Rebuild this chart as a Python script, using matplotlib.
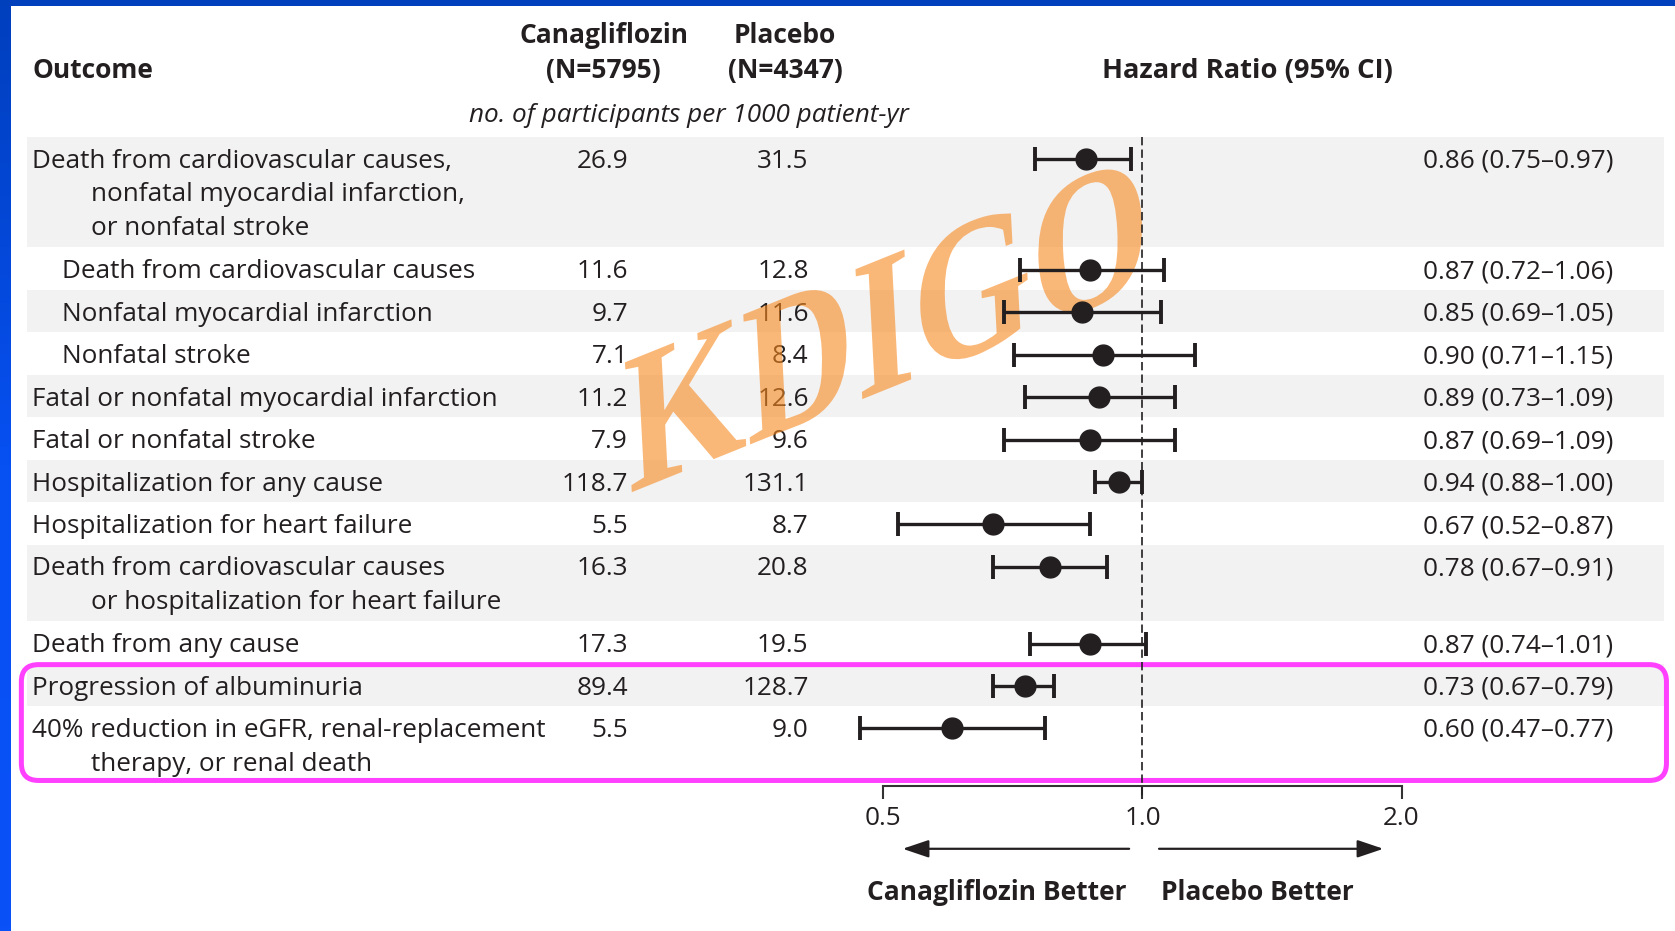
import numpy as np
import matplotlib
matplotlib.use("Agg")
import matplotlib.pyplot as plt
from matplotlib.patches import Rectangle, FancyBboxPatch, PathPatch
from matplotlib.textpath import TextPath
from matplotlib.font_manager import FontProperties
from matplotlib.transforms import Affine2D
from matplotlib.colors import LinearSegmentedColormap
from matplotlib.ticker import NullLocator

plt.rcParams['font.family'] = ['Open Sans', 'DejaVu Sans']

outcomes = [
    "Death from cardiovascular causes,\nnonfatal myocardial infarction,\nor nonfatal stroke",
    "Death from cardiovascular causes",
    "Nonfatal myocardial infarction",
    "Nonfatal stroke",
    "Fatal or nonfatal myocardial infarction",
    "Fatal or nonfatal stroke",
    "Hospitalization for any cause",
    "Hospitalization for heart failure",
    "Death from cardiovascular causes\nor hospitalization for heart failure",
    "Death from any cause",
    "Progression of albuminuria",
    "40% reduction in eGFR, renal-replacement\ntherapy, or renal death",
]
subgroup = [False, True, True, True, False, False, False, False, False, False, False, False]
canagliflozin = [26.9, 11.6, 9.7, 7.1, 11.2, 7.9, 118.7, 5.5, 16.3, 17.3, 89.4, 5.5]
placebo = [31.5, 12.8, 11.6, 8.4, 12.6, 9.6, 131.1, 8.7, 20.8, 19.5, 128.7, 9.0]
hazard_ratio = [0.86, 0.87, 0.85, 0.90, 0.89, 0.87, 0.94, 0.67, 0.78, 0.87, 0.73, 0.60]
ci_low = [0.75, 0.72, 0.69, 0.71, 0.73, 0.69, 0.88, 0.52, 0.67, 0.74, 0.67, 0.47]
ci_high = [0.97, 1.06, 1.05, 1.15, 1.09, 1.09, 1.00, 0.87, 0.91, 1.01, 0.79, 0.77]
highlighted = [10, 11]

INK = '#231f20'
W, H = 1568, 872
FS = 18.8
HFS = 19

fig = plt.figure(figsize=(16.75, 9.31), dpi=100)
ax = fig.add_axes([0, 0, 1, 1])

# blue slide frame
frame = LinearSegmentedColormap.from_list('frame', ['#003fbd', '#0750f2', '#0a52f8'])
ax.imshow(np.linspace(0, 1, 200)[:, None], extent=(0, 10, H, 0), cmap=frame, aspect='auto', zorder=20)
ax.add_patch(Rectangle((0, 0), W, 5.5, fc='#0040bd', ec='none', zorder=21))

# header
ax.text(30, 73, "Outcome", fontsize=HFS, fontweight='bold', color=INK)
ax.text(565, 40, "Canagliflozin", fontsize=HFS, fontweight='bold', color=INK, ha='center')
ax.text(565, 73, "(N=5795)", fontsize=HFS, fontweight='bold', color=INK, ha='center')
ax.text(735, 40, "Placebo", fontsize=HFS, fontweight='bold', color=INK, ha='center')
ax.text(735, 73, "(N=4347)", fontsize=HFS, fontweight='bold', color=INK, ha='center')
ax.text(1168, 73, "Hazard Ratio (95% CI)", fontsize=19.7, fontweight='bold', color=INK, ha='center')
ax.text(645, 114, "no. of participants per 1000 patient-yr", fontsize=18.8, style='italic',
        color=INK, ha='center')

# table rows
top = 128
rows_y = []
for i, label in enumerate(outcomes):
    lines = label.split('\n')
    h = 39.75 + 32 * (len(lines) - 1)
    if i % 2 == 0:
        ax.add_patch(Rectangle((25, top), 1533, h, fc='#f2f2f2', ec='none', zorder=0))
    y = top + 21
    rows_y.append(y)
    for k, line in enumerate(lines):
        x = (58 if subgroup[i] else 30) if k == 0 else 85
        ax.text(x, y + 8 + 31.5 * k, line, fontsize=FS, color=INK)
    ax.text(588, y + 8, f"{canagliflozin[i]:.1f}", fontsize=FS, color=INK, ha='right')
    ax.text(757, y + 8, f"{placebo[i]:.1f}", fontsize=FS, color=INK, ha='right')
    ax.text(1332, y + 8, f"{hazard_ratio[i]:.2f} ({ci_low[i]:.2f}\u2013{ci_high[i]:.2f})",
            fontsize=FS, color=INK)
    top += h

# box around the kidney outcomes
y0 = rows_y[highlighted[0]] - 21 + 1
ax.add_patch(FancyBboxPatch((20, y0), 1540, top - y0 - 2,
                            boxstyle='round,pad=0,rounding_size=16',
                            fc='none', ec='#ff40ff', lw=3.6, zorder=6))

# direction arrows and labels
arrow = dict(arrowstyle='-|>,head_length=0.8,head_width=0.27', color=INK, lw=1.6,
             shrinkA=0, shrinkB=0, mutation_scale=20)
ax.annotate('', xy=(845, 795), xytext=(1057, 795), arrowprops=arrow)
ax.annotate('', xy=(1295, 795), xytext=(1085, 795), arrowprops=arrow)
ax.text(1055, 843, "Canagliflozin Better", fontsize=HFS, fontweight='bold', color=INK, ha='right')
ax.text(1087, 843, "Placebo Better", fontsize=HFS, fontweight='bold', color=INK)

# watermark
fp = FontProperties(family='Liberation Serif', weight='bold')
tp = TextPath((0, 0), "KDIGO", size=186, prop=fp)
tr = Affine2D().scale(0.78, -1).skew_deg(0, -19).rotate_deg(-3).translate(589, 462)
ax.add_patch(PathPatch(tr.transform_path(tp), fc='#f8891f', ec='none', alpha=0.6, zorder=10))

ax.set_xlim(0, W)
ax.set_ylim(H, 0)
ax.axis('off')

# forest plot on a log hazard-ratio scale
fax = fig.add_axes([827 / W, 0, 485 / W, 1])
fax.set_xscale('log')
fax.set_xlim(0.5, 2.0)
fax.set_ylim(H, 0)
fax.patch.set_visible(False)
for s in ('left', 'right', 'top'):
    fax.spines[s].set_visible(False)
fax.spines['bottom'].set_position(('data', 736))
fax.spines['bottom'].set_linewidth(1.5)
fax.spines['bottom'].set_color('#333333')
fax.set_xticks([0.5, 1.0, 2.0])
fax.set_xticklabels(['0.5', '1.0', '2.0'])
fax.xaxis.set_minor_locator(NullLocator())
fax.set_yticks([])
fax.tick_params(axis='x', direction='out', length=9, width=1.5, pad=5.5,
                labelsize=FS, colors='#333333', labelcolor=INK)

fax.vlines(1.0, 128, 748, colors=INK, linestyles=(0, (5, 2.5)), lw=1.2, zorder=2)
hr = np.array(hazard_ratio)
cont = fax.errorbar(hr, rows_y, xerr=[hr - np.array(ci_low), np.array(ci_high) - hr],
                    fmt='o', ms=15, color=INK, ecolor=INK, elinewidth=2.4,
                    capsize=8.3, capthick=2.8, zorder=3)
for art in cont.get_children():
    art.set_clip_on(False)

fig.savefig('out.png', dpi=100)
